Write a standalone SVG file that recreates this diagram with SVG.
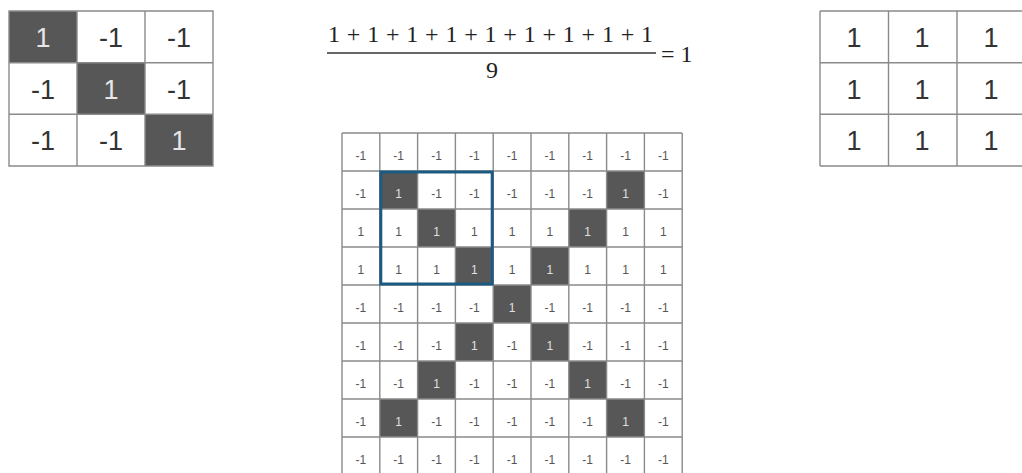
<svg xmlns="http://www.w3.org/2000/svg" width="1022" height="473" viewBox="0 0 1022 473">
<style>
.bg{fill:#ffffff}
.dk{fill:#575757}
.gl{fill:none;stroke:#8a8a8a;stroke-width:1.4}
.big{font-family:"Liberation Sans",Arial,sans-serif;font-size:27px;text-anchor:middle;fill:#333}
.bigw{font-family:"Liberation Sans",Arial,sans-serif;font-size:27px;text-anchor:middle;fill:#e6e6e6}
.sm{font-family:"Liberation Sans",Arial,sans-serif;font-size:12px;text-anchor:middle;fill:#555}
.smw{font-family:"Liberation Sans",Arial,sans-serif;font-size:12px;text-anchor:middle;fill:#e0e0e0}
.math{font-family:"Liberation Serif","Times New Roman",serif;font-size:24px;fill:#222}
</style>
<rect width="1022" height="473" fill="#ffffff"/>

<g id="filter-matrix">
<rect class="bg" x="9" y="11" width="204" height="155"/>
<rect class="dk" x="9" y="11" width="68" height="51.7"/>
<rect class="dk" x="77" y="62.7" width="68" height="51.6"/>
<rect class="dk" x="145" y="114.3" width="68" height="51.7"/>
<path class="gl" d="M9 11H213V166H9Z M77 11V166 M145 11V166 M9 62.7H213 M9 114.3H213"/>
<text class="bigw" x="43" y="47">1</text>
<text class="big" x="111" y="47">-1</text>
<text class="big" x="179" y="47">-1</text>
<text class="big" x="43" y="99">-1</text>
<text class="bigw" x="111" y="99">1</text>
<text class="big" x="179" y="99">-1</text>
<text class="big" x="43" y="150">-1</text>
<text class="big" x="111" y="150">-1</text>
<text class="bigw" x="179" y="150">1</text>
</g>

<g id="formula">
<text class="math" x="328" y="42" textLength="325" lengthAdjust="spacing">1 + 1 + 1 + 1 + 1 + 1 + 1 + 1 + 1</text>
<line x1="327" y1="53" x2="656" y2="53" stroke="#333" stroke-width="1.5"/>
<text class="math" x="492" y="78" text-anchor="middle">9</text>
<text class="math" x="661" y="62">= 1</text>
</g>

<g id="result-matrix">
<rect class="bg" x="820" y="11" width="210" height="155"/>
<path class="gl" d="M820 11H1030 M820 166H1030 M820 11V166 M888.5 11V166 M957 11V166 M820 62.7H1030 M820 114.3H1030"/>
<text class="big" x="854" y="47">1</text>
<text class="big" x="922" y="47">1</text>
<text class="big" x="991" y="47">1</text>
<text class="big" x="854" y="99">1</text>
<text class="big" x="922" y="99">1</text>
<text class="big" x="991" y="99">1</text>
<text class="big" x="854" y="150">1</text>
<text class="big" x="922" y="150">1</text>
<text class="big" x="991" y="150">1</text>
</g>

<g id="image-grid">
<rect class="bg" x="342" y="133" width="340.2" height="342"/>
<rect class="dk" x="379.8" y="171" width="37.8" height="38"/>
<rect class="dk" x="606.6" y="171" width="37.8" height="38"/>
<rect class="dk" x="417.6" y="209" width="37.8" height="38"/>
<rect class="dk" x="568.8" y="209" width="37.8" height="38"/>
<rect class="dk" x="455.4" y="247" width="37.8" height="38"/>
<rect class="dk" x="531" y="247" width="37.8" height="38"/>
<rect class="dk" x="493.2" y="285" width="37.8" height="38"/>
<rect class="dk" x="455.4" y="323" width="37.8" height="38"/>
<rect class="dk" x="531" y="323" width="37.8" height="38"/>
<rect class="dk" x="417.6" y="361" width="37.8" height="38"/>
<rect class="dk" x="568.8" y="361" width="37.8" height="38"/>
<rect class="dk" x="379.8" y="399" width="37.8" height="38"/>
<rect class="dk" x="606.6" y="399" width="37.8" height="38"/>
<path class="gl" d="M342 133V475 M379.8 133V475 M417.6 133V475 M455.4 133V475 M493.2 133V475 M531 133V475 M568.8 133V475 M606.6 133V475 M644.4 133V475 M682.2 133V475 M342 133H682.2 M342 171H682.2 M342 209H682.2 M342 247H682.2 M342 285H682.2 M342 323H682.2 M342 361H682.2 M342 399H682.2 M342 437H682.2 M342 475H682.2"/>
<!-- row 0 -->
<text class="sm" x="360.9" y="160">-1</text><text class="sm" x="398.7" y="160">-1</text><text class="sm" x="436.5" y="160">-1</text><text class="sm" x="474.3" y="160">-1</text><text class="sm" x="512.1" y="160">-1</text><text class="sm" x="549.9" y="160">-1</text><text class="sm" x="587.7" y="160">-1</text><text class="sm" x="625.5" y="160">-1</text><text class="sm" x="663.3" y="160">-1</text>
<!-- row 1 -->
<text class="sm" x="360.9" y="198">-1</text><text class="smw" x="398.7" y="198">1</text><text class="sm" x="436.5" y="198">-1</text><text class="sm" x="474.3" y="198">-1</text><text class="sm" x="512.1" y="198">-1</text><text class="sm" x="549.9" y="198">-1</text><text class="sm" x="587.7" y="198">-1</text><text class="smw" x="625.5" y="198">1</text><text class="sm" x="663.3" y="198">-1</text>
<!-- row 2 -->
<text class="sm" x="360.9" y="236">1</text><text class="sm" x="398.7" y="236">1</text><text class="smw" x="436.5" y="236">1</text><text class="sm" x="474.3" y="236">1</text><text class="sm" x="512.1" y="236">1</text><text class="sm" x="549.9" y="236">1</text><text class="smw" x="587.7" y="236">1</text><text class="sm" x="625.5" y="236">1</text><text class="sm" x="663.3" y="236">1</text>
<!-- row 3 -->
<text class="sm" x="360.9" y="274">1</text><text class="sm" x="398.7" y="274">1</text><text class="sm" x="436.5" y="274">1</text><text class="smw" x="474.3" y="274">1</text><text class="sm" x="512.1" y="274">1</text><text class="smw" x="549.9" y="274">1</text><text class="sm" x="587.7" y="274">1</text><text class="sm" x="625.5" y="274">1</text><text class="sm" x="663.3" y="274">1</text>
<!-- row 4 -->
<text class="sm" x="360.9" y="312">-1</text><text class="sm" x="398.7" y="312">-1</text><text class="sm" x="436.5" y="312">-1</text><text class="sm" x="474.3" y="312">-1</text><text class="smw" x="512.1" y="312">1</text><text class="sm" x="549.9" y="312">-1</text><text class="sm" x="587.7" y="312">-1</text><text class="sm" x="625.5" y="312">-1</text><text class="sm" x="663.3" y="312">-1</text>
<!-- row 5 -->
<text class="sm" x="360.9" y="350">-1</text><text class="sm" x="398.7" y="350">-1</text><text class="sm" x="436.5" y="350">-1</text><text class="smw" x="474.3" y="350">1</text><text class="sm" x="512.1" y="350">-1</text><text class="smw" x="549.9" y="350">1</text><text class="sm" x="587.7" y="350">-1</text><text class="sm" x="625.5" y="350">-1</text><text class="sm" x="663.3" y="350">-1</text>
<!-- row 6 -->
<text class="sm" x="360.9" y="388">-1</text><text class="sm" x="398.7" y="388">-1</text><text class="smw" x="436.5" y="388">1</text><text class="sm" x="474.3" y="388">-1</text><text class="sm" x="512.1" y="388">-1</text><text class="sm" x="549.9" y="388">-1</text><text class="smw" x="587.7" y="388">1</text><text class="sm" x="625.5" y="388">-1</text><text class="sm" x="663.3" y="388">-1</text>
<!-- row 7 -->
<text class="sm" x="360.9" y="426">-1</text><text class="smw" x="398.7" y="426">1</text><text class="sm" x="436.5" y="426">-1</text><text class="sm" x="474.3" y="426">-1</text><text class="sm" x="512.1" y="426">-1</text><text class="sm" x="549.9" y="426">-1</text><text class="sm" x="587.7" y="426">-1</text><text class="smw" x="625.5" y="426">1</text><text class="sm" x="663.3" y="426">-1</text>
<!-- row 8 -->
<text class="sm" x="360.9" y="464">-1</text><text class="sm" x="398.7" y="464">-1</text><text class="sm" x="436.5" y="464">-1</text><text class="sm" x="474.3" y="464">-1</text><text class="sm" x="512.1" y="464">-1</text><text class="sm" x="549.9" y="464">-1</text><text class="sm" x="587.7" y="464">-1</text><text class="sm" x="625.5" y="464">-1</text><text class="sm" x="663.3" y="464">-1</text>
</g>

<g id="window">
<rect x="380.8" y="172" width="111.4" height="112" fill="none" stroke="#1d5a82" stroke-width="3"/>
</g>
</svg>
